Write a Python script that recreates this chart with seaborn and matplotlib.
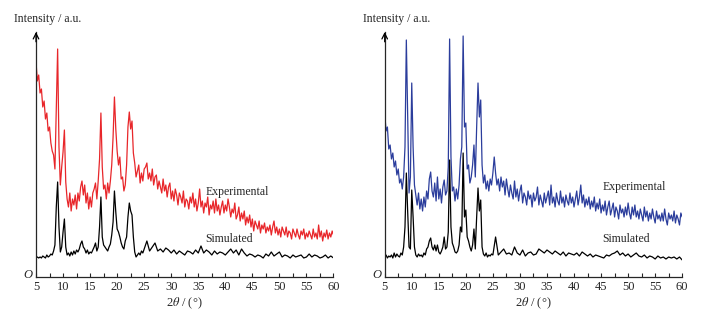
import numpy as np
import matplotlib
matplotlib.use("Agg")
import matplotlib.pyplot as plt
import seaborn as sns

# 2theta sampling: experimental on a 0.25 deg grid, simulated 0.25 deg up to 25 then 0.5 deg
theta_exp = list(np.round(np.arange(5.0, 60.01, 0.25), 2))
theta_sim = list(np.round(np.arange(5.0, 25.01, 0.25), 2)) + list(np.round(np.arange(25.5, 60.01, 0.5), 2))

left_exp = [
    215, 196, 202, 184, 188, 170, 176, 158, 164, 146, 150, 134, 126, 122, 108, 170, 228, 130, 92, 110,
    125, 147, 95, 78, 70, 84, 66, 78, 72, 82, 68, 84, 76, 90, 96, 82, 92, 74, 84, 68,
    80, 70, 84, 88, 94, 78, 96, 118, 164, 110, 88, 92, 78, 94, 84, 96, 112, 140, 180, 148,
    126, 112, 120, 98, 100, 86, 92, 112, 150, 165, 148, 156, 124, 114, 100, 106, 112, 94, 104, 96,
    108,
    110, 114, 98, 104, 96, 108, 92, 100, 102, 88, 96, 90, 84, 98, 86, 92,
    80, 90, 94, 78, 86, 76, 88, 82, 72, 84, 80, 74, 86, 70, 78, 76,
    68, 80, 74, 84, 70, 78, 66, 74, 88, 70, 76, 64, 74, 70, 80, 62,
    72, 68, 76, 64, 78, 66, 72, 62, 70, 76, 64, 72, 66, 78, 70, 60,
    68, 64, 74, 58, 62, 70, 56, 64, 58, 66, 52, 60, 54, 62, 50, 58,
    46, 56, 52, 48, 56, 44, 52, 48, 54, 44, 50, 46, 52, 42, 50, 56,
    44, 50, 42, 48, 40, 50, 46, 42, 50, 40, 46, 44, 38, 48, 44, 40,
    48, 42, 38, 46, 42, 48, 38, 44, 40, 46, 42, 38, 48, 40, 44, 38,
    52, 40, 46, 36, 44, 40, 47, 38, 44, 40, 46, 42,
]
left_sim = [
    19, 20, 19, 20, 19, 21, 20, 19, 22, 20, 21, 23, 22, 26, 32, 70, 95, 50, 25, 30,
    45, 58, 30, 22, 24, 21, 25, 22, 26, 23, 27, 25, 28, 33, 36, 30, 28, 24, 27, 23,
    25, 24, 27, 30, 34, 26, 30, 50, 80, 40, 32, 30, 28, 26, 30, 33, 42, 55, 86, 65,
    48, 45, 40, 34, 30, 28, 36, 40, 60, 74, 66, 62, 40, 25, 20, 22, 24, 22, 26, 24,
    28,
    36, 26, 30, 34, 26, 28, 25, 29, 27, 24,
    27, 23, 26, 24, 22, 26, 25, 23, 27, 24,
    31, 24, 27, 25, 22, 26, 23, 25, 24, 22,
    25, 28, 24, 27, 22, 28, 24, 21, 23, 22,
    20, 22, 21, 19, 23, 21, 25, 21, 23, 25,
    20, 22, 21, 19, 22, 20, 21, 22, 19, 20,
    23, 20, 22, 21, 19, 20, 22, 19, 21, 19,
]
right_exp = [
    164, 146, 150, 128, 132, 118, 124, 110, 116, 102, 108, 94, 98, 88, 100, 130, 237, 160, 84, 100,
    194, 130, 92, 82, 72, 84, 68, 78, 66, 80, 70, 86, 78, 98, 105, 86, 80, 94, 76, 100,
    78, 88, 74, 90, 97, 82, 86, 110, 238, 120, 86, 90, 76, 88, 78, 92, 118, 130, 241, 150,
    154, 108, 112, 94, 100, 112, 132, 100, 150, 194, 160, 177, 112, 94, 102, 88, 96, 86, 98, 92,
    104,
    120, 104, 92, 98, 86, 100, 90, 96, 82, 98, 88, 80, 92, 84, 78, 96,
    80, 88, 76, 86, 92, 74, 84, 80, 72, 86, 78, 82, 70, 84, 76, 80,
    90, 72, 82, 76, 70, 84, 74, 80, 86, 72, 92, 74, 80, 70, 84, 76,
    72, 86, 74, 80, 70, 82, 76, 72, 84, 74, 80, 70, 78, 86, 72, 80,
    92, 74, 82, 70, 78, 72, 80, 68, 76, 70, 80, 66, 74, 68, 78, 64,
    72, 66, 76, 62, 70, 76, 62, 68, 74, 60, 70, 66, 58, 72, 64, 68,
    60, 70, 62, 74, 64, 58, 70, 62, 72, 60, 66, 58, 68, 62, 56, 70,
    60, 66, 56, 64, 58, 68, 60, 54, 66, 58, 62, 56, 64, 56, 68, 58,
    52, 64, 58, 62, 56, 66, 54, 62, 58, 52, 64, 60,
]
right_sim = [
    20, 22, 19, 21, 20, 22, 19, 24, 20, 23, 21, 20, 24, 22, 30, 50, 104, 65, 30, 28,
    87, 60, 30, 22, 20, 23, 21, 22, 20, 24, 22, 28, 30, 36, 39, 30, 27, 32, 26, 32,
    25, 23, 26, 30, 40, 28, 30, 45, 117, 50, 34, 30, 25, 24, 26, 32, 50, 45, 124, 60,
    67, 40, 36, 30, 26, 32, 48, 28, 60, 89, 66, 77, 30, 23, 21, 24, 20, 22, 21, 23,
    22,
    40, 22, 25, 28, 23, 24, 22, 30, 24, 22,
    27, 21, 24, 25, 22, 23, 28, 26, 24, 27,
    25, 23, 26, 24, 22, 25, 21, 24, 23, 22,
    24, 21, 25, 23, 21, 23, 20, 22, 21, 20,
    19, 22, 21, 23, 24, 26, 22, 24, 21, 23,
    20, 22, 24, 21, 20, 22, 19, 21, 20, 18,
    21, 19, 20, 18, 20, 19, 20, 18, 20, 17,
]

# label anchors (2theta, intensity)
left_labels = {"Experimental": (36.3, 85), "Simulated": (36.3, 38)}
right_labels = {"Experimental": (45.3, 90), "Simulated": (45.3, 38)}

sns.set_style("ticks")
plt.rcParams["font.family"] = ["Liberation Serif", "DejaVu Serif"]
plt.rcParams["mathtext.fontset"] = "stix"

fig = plt.figure(figsize=(7.01, 3.15), dpi=100)
W, H = 701, 315
panels = [
    (36, left_exp, left_sim, "#e8262a", left_labels),
    (384.7, right_exp, right_sim, "#2b3d9c", right_labels),
]

for x0, exp, sim, col, labels in panels:
    ax = fig.add_axes([x0 / W, 38 / H, 297.5 / W, 245 / H])
    sns.lineplot(x=theta_exp, y=exp, ax=ax, color=col, linewidth=0.9)
    sns.lineplot(x=theta_sim, y=sim, ax=ax, color="black", linewidth=0.9)
    ax.set_xlim(5, 60)
    ax.set_ylim(0, 245)
    for side in ["top", "right"]:
        ax.spines[side].set_visible(False)
    ax.spines["left"].set_linewidth(0.9)
    ax.spines["bottom"].set_linewidth(0.9)
    ax.set_yticks([])
    ax.set_xticks(range(5, 61, 5))
    ax.set_xticks(np.arange(7.5, 60, 5), minor=True)
    ax.tick_params(axis="x", which="both", direction="in", length=3, width=0.8, labelsize=9, pad=3)
    ax.set_xlabel(r"2$\theta$ / (°)", fontsize=9, labelpad=2)
    ax.set_ylabel("")
    ax.annotate("", xy=(0, 1.0), xytext=(0, 0.96), xycoords="axes fraction",
                arrowprops=dict(arrowstyle="->", color="black", lw=0.9, shrinkA=0, shrinkB=0))
    ax.text(-0.012, 0.01, "O", transform=ax.transAxes, ha="right", va="center",
            style="italic", fontsize=9)
    for name, (lx, ly) in labels.items():
        ax.text(lx, ly, name, fontsize=8.5, ha="left", va="center")
    fig.text((x0 - 22) / W, 1 - 19 / H, "Intensity / a.u.", fontsize=8.5, ha="left", va="center")

fig.savefig("out.png", dpi=100)
